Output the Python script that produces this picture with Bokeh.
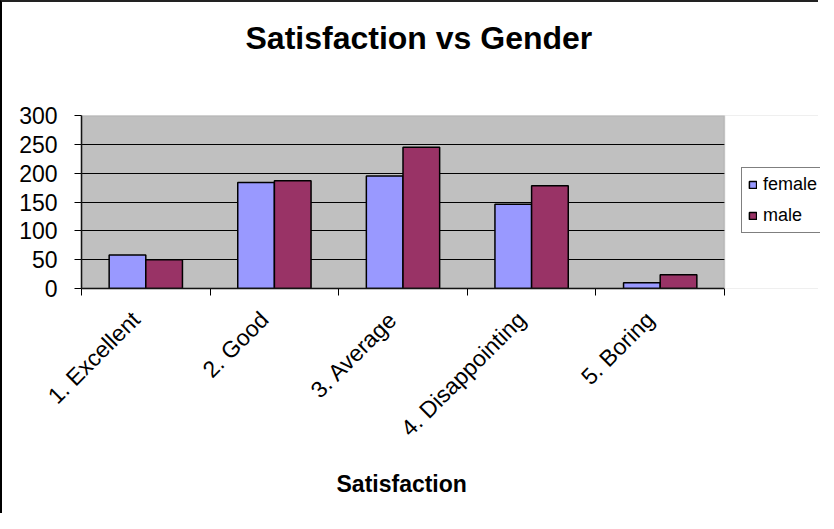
import math
import numpy as np
from bokeh.plotting import figure
from bokeh.models import (ColumnDataSource, FixedTicker, Legend, LegendItem, Range1d,
                          Title, BoxAnnotation)
from bokeh.embed import file_html
from bokeh.resources import INLINE

# ---- data ----
categories = ["1. Excellent", "2. Good", "3. Average", "4. Disappointing", "5. Boring"]
female = [58, 184, 195, 146, 10]
male = [50, 187, 245, 178, 24]
y_ticks = [0, 50, 100, 150, 200, 250, 300]
series_names = ["female", "male"]
series_colors = ["#9999FF", "#993366"]
title_text = "Satisfaction vs Gender"
x_label = "Satisfaction"

FONT = "Liberation Sans"

# layout (pixels)
W, H = 818, 513
LEFT, TOP, BOTTOM = 79, 113, 226
PLOT_W = 643                       # width of the grey plot area
n = len(categories)
x_end = n * (W - LEFT) / PLOT_W    # frame runs to the canvas edge; legend lives there
label_shift = 10 * n / PLOT_W      # rotated labels end slightly left of the category centre

p = figure(width=W, height=H, output_backend="svg", toolbar_location=None,
           x_range=Range1d(0, x_end), y_range=Range1d(y_ticks[0], y_ticks[-1]),
           min_border_left=LEFT, min_border_right=0, min_border_top=TOP,
           min_border_bottom=BOTTOM)
p.styles = {"border-left": "2px solid black", "border-top": "2px solid #222222"}

p.background_fill_color = "#C0C0C0"
p.border_fill_color = "white"
p.outline_line_color = None

idx = np.arange(n)
centers = idx + 0.5
bar_w = 0.285
src = ColumnDataSource(dict(x_f=centers - bar_w / 2, x_m=centers + bar_w / 2,
                            female=female, male=male))
r_f = p.vbar(x="x_f", top="female", width=bar_w, source=src,
             fill_color=series_colors[0], line_color="black", line_width=1.5)
r_m = p.vbar(x="x_m", top="male", width=bar_w, source=src,
             fill_color=series_colors[1], line_color="black", line_width=1.5)

# white area right of the plot area (holds the legend), and plot-area border
span = y_ticks[-1] - y_ticks[0]
p.add_layout(BoxAnnotation(left=n, bottom=y_ticks[0] - span, top=y_ticks[-1] + span,
                           fill_color="white", fill_alpha=1, line_color=None))
p.add_layout(BoxAnnotation(left=0, right=n, bottom=y_ticks[0], top=y_ticks[-1],
                           fill_color=None, fill_alpha=0,
                           line_color="#808080", line_width=1.5))

# grid
p.xgrid.visible = False
p.ygrid.ticker = FixedTicker(ticks=y_ticks[1:-1])
p.ygrid.grid_line_color = "black"
p.ygrid.grid_line_width = 1

# x axis
label_pos = [float(c - label_shift) for c in centers]
xa = p.xaxis[0]
xa.bounds = (0, n)
xa.ticker = FixedTicker(ticks=label_pos,
                        minor_ticks=[float(i) for i in range(n + 1)])
xa.major_label_overrides = {lp: cat for lp, cat in zip(label_pos, categories)}
xa.major_tick_line_color = None
xa.major_tick_out = 0
xa.major_tick_in = 0
xa.minor_tick_line_color = "black"
xa.minor_tick_in = 0
xa.minor_tick_out = 7
xa.axis_line_color = "black"
xa.axis_line_width = 1.5
xa.major_label_orientation = math.pi / 4
xa.major_label_standoff = 20
xa.major_label_text_font = FONT
xa.major_label_text_font_size = "23px"
xa.major_label_text_color = "black"

# x axis title, centred under the grey plot area
p.add_layout(Title(text=x_label, text_font=FONT, text_font_size="23px",
                   text_font_style="bold", text_color="black",
                   align="left", offset=255, vertical_align="top", standoff=34),
             "below")

# y axis
ya = p.yaxis[0]
ya.ticker = FixedTicker(ticks=y_ticks)
ya.major_tick_in = 0
ya.major_tick_out = 7
ya.major_tick_line_color = "black"
ya.minor_tick_line_color = None
ya.axis_line_color = "black"
ya.axis_line_width = 1.5
ya.major_label_standoff = 17
ya.major_label_text_font = FONT
ya.major_label_text_font_size = "23px"
ya.major_label_text_color = "black"

# title (outermost) + spacer between title and plot area
p.title.text = title_text
p.title.text_font = FONT
p.title.text_font_size = "32px"
p.title.text_font_style = "bold"
p.title.text_color = "black"
p.title.align = "left"
p.title.offset = 164
p.title.vertical_align = "top"
p.title.standoff = 22
p.add_layout(Title(text=" ", text_font_size="1px", standoff=44), "above")

# legend, right of the plot area
legend = Legend(items=[LegendItem(label=series_names[0], renderers=[r_f]),
                       LegendItem(label=series_names[1], renderers=[r_m])],
                location=(660, 55), orientation="vertical",
                border_line_color="black", border_line_width=1,
                background_fill_color="white", background_fill_alpha=1,
                label_text_font=FONT, label_text_font_size="18px",
                label_text_color="black",
                glyph_width=9, glyph_height=9, spacing=10, padding=6,
                margin=0, label_standoff=6)
p.add_layout(legend, "center")

open("out.html", "w").write(file_html(p, INLINE))
